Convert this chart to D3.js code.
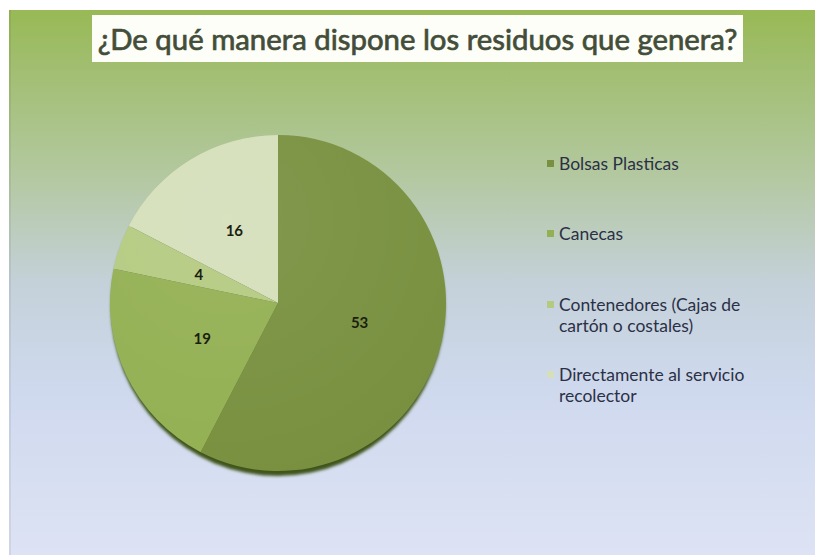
<!DOCTYPE html>
<html><head><meta charset="utf-8">
<script src="https://cdn.jsdelivr.net/npm/d3@7"></script>
<style>body{margin:0;background:#fff}svg{display:block}</style>
</head><body>
<svg id="c" width="815" height="555"></svg>
<script>
const title = "¿De qué manera dispone los residuos que genera?";
const categories = ["Bolsas Plasticas", "Canecas", "Contenedores (Cajas de cartón o costales)", "Directamente al servicio recolector"];
const legendLines = [["Bolsas Plasticas"], ["Canecas"], ["Contenedores (Cajas de", "cartón o costales)"], ["Directamente al servicio", "recolector"]];
const values = [53, 19, 4, 16];
const colors = ["#78903f", "#93b052", "#b4ca80", "#d5dfba"];

const svg = d3.select("#c");
const defs = svg.append("defs");
const bg = defs.append("linearGradient").attr("id","bg").attr("x1",0).attr("y1",0).attr("x2",0).attr("y2",1);
[[0,"#98b955"],[0.12,"#a2bf74"],[0.3,"#b3c89f"],[0.5,"#c4d1d9"],[0.7,"#cfd9ee"],[1,"#dde3f4"]].forEach(s=>bg.append("stop").attr("offset",s[0]).attr("stop-color",s[1]));
svg.append("rect").attr("x",9).attr("y",10).attr("width",806).attr("height",545).attr("fill","url(#bg)");
svg.append("rect").attr("x",9).attr("y",10).attr("width",2).attr("height",545).attr("fill","#000").attr("opacity",0.06);

// title box
svg.append("rect").attr("x",92).attr("y",15).attr("width",651).attr("height",47).attr("fill","#fcfef7");
const t = svg.append("text").attr("x",417.5).attr("y",50).attr("text-anchor","middle")
  .attr("font-family","Lato, 'Open Sans', sans-serif").attr("font-size",31).attr("fill","#434d39")
  .attr("stroke","#434d39").attr("stroke-width",0.7).text(title);
const tw = t.node().getComputedTextLength();
t.attr("font-size", 31*640/tw);

// pie
const cx = 278, cy = 303, R = 168;
const g = svg.append("g").attr("transform",`translate(${cx},${cy})`);
const pie = d3.pie().sort(null).value(d=>d)(values);
const arc = d3.arc().innerRadius(0).outerRadius(R);
const lab = d3.arc().innerRadius(84).outerRadius(84);

const sh = defs.append("filter").attr("id","blur").attr("x","-20%").attr("y","-20%").attr("width","140%").attr("height","140%");
sh.append("feGaussianBlur").attr("stdDeviation",1.5);
g.append("ellipse").attr("cx",0).attr("cy",4).attr("rx",R-1).attr("ry",R+1).attr("fill","#3f551a").attr("filter","url(#blur)");

g.selectAll("path.s").data(pie).enter().append("path").attr("class","s")
  .attr("d",arc).attr("fill",(d,i)=>colors[i]);

const hl = defs.append("radialGradient").attr("id","hl").attr("cx","35%").attr("cy","25%").attr("r","80%");
hl.append("stop").attr("offset",0).attr("stop-color","#fff").attr("stop-opacity",0.08);
hl.append("stop").attr("offset",1).attr("stop-color","#fff").attr("stop-opacity",0);
g.append("circle").attr("r",R).attr("fill","url(#hl)");

g.selectAll("text.l").data(pie).enter().append("text").attr("class","l")
  .attr("transform",d=>`translate(${lab.centroid(d)})`).attr("dy","0.35em").attr("text-anchor","middle")
  .attr("font-family","Lato, sans-serif").attr("font-weight","bold").attr("font-size",15).attr("fill","#1a1f10")
  .text(d=>d.data);

// legend
const ly = [164, 234, 305, 375];
const lg = svg.append("g");
legendLines.forEach((lines,i)=>{
  lg.append("rect").attr("x",547).attr("y",ly[i]-4).attr("width",7).attr("height",7).attr("fill",colors[i]);
  lines.forEach((ln,j)=>{
    lg.append("text").attr("x",559).attr("y",ly[i]+j*21).attr("dy","0.35em")
      .attr("font-family","Lato, sans-serif").attr("font-size",17.5).attr("fill","#2b3046").text(ln);
  });
});
</script>
</body></html>
